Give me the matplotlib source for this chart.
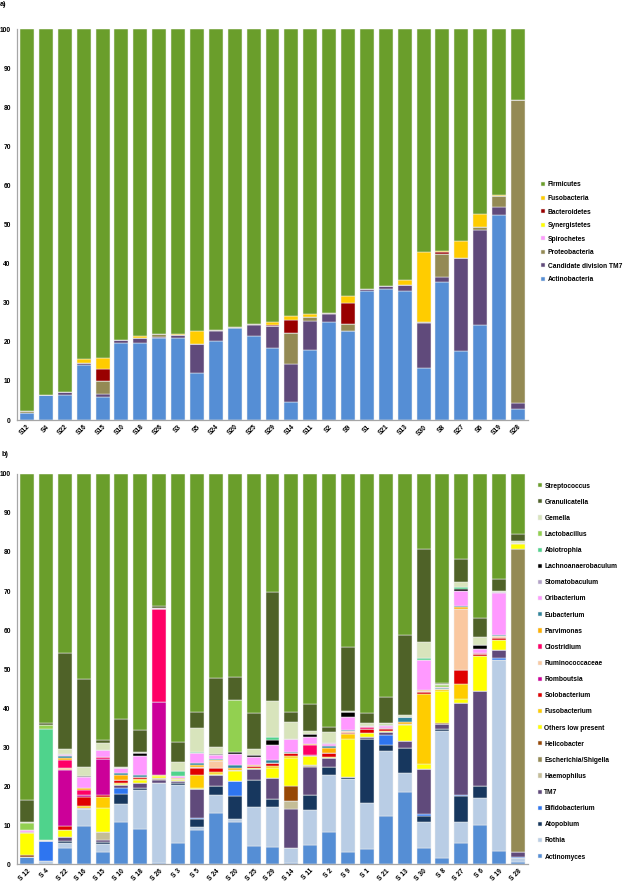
import matplotlib
matplotlib.use("Agg")
import matplotlib.pyplot as plt
import numpy as np

plt.rcParams['font.family'] = ['Liberation Sans', 'DejaVu Sans']
plt.rcParams['font.weight'] = 'bold'

# ---- panel a: phyla ----
samples_a = ["S12", "S4", "S22", "S16", "S15", "S10", "S18", "S26", "S3", "S5",
             "S24", "S20", "S25", "S29", "S14", "S11", "S2", "S9", "S1", "S21",
             "S13", "S30", "S8", "S27", "S6", "S19", "S28"]

actinobacteria = [1.8, 6.3, 6.3, 14.0, 5.8, 19.6, 19.7, 21.0, 21.0, 12.0, 20.2, 23.6, 21.6, 18.3,
                  4.7, 18.0, 25.0, 22.7, 33.0, 33.5, 33.0, 13.2, 35.3, 17.6, 24.3, 52.4, 2.8]
candidate_tm7 = [0, 0, 0.9, 0.5, 0.8, 0.9, 1.4, 0.3, 0.7, 7.4, 2.7, 0, 2.8, 5.7,
                 9.7, 7.4, 2.2, 0, 0.5, 0.7, 1.6, 11.7, 1.3, 23.9, 24.4, 2.2, 1.5]
proteobacteria = [0.4, 0, 0, 0.2, 3.5, 0, 0, 0.6, 0, 0, 0.2, 0.3, 0.2, 0,
                  7.8, 1.0, 0.1, 1.8, 0.1, 0, 0, 0.2, 5.9, 0, 0.6, 2.7, 77.5]
spirochetes = [0] * 27
synergistetes = [0] * 27
bacteroidetes = [0, 0, 0, 0, 2.9, 0, 0, 0, 0, 0, 0, 0, 0, 0.2,
                 3.4, 0, 0, 5.5, 0, 0, 0, 0, 0.5, 0, 0, 0, 0]
fusobacteria = [0, 0, 0, 0.8, 2.9, 0, 0.5, 0, 0.3, 3.4, 0, 0, 0, 0.8,
                1.0, 0.6, 0, 1.6, 0, 0, 1.2, 17.9, 0.2, 4.2, 3.5, 0.3, 0]
firmicutes = [97.8, 93.7, 92.8, 84.5, 84.1, 79.5, 78.4, 78.1, 78.0, 77.2, 76.9, 76.1, 75.4, 75.0,
              73.4, 73.0, 72.7, 68.4, 66.4, 65.8, 64.2, 57.0, 56.8, 54.3, 47.2, 42.4, 18.2]

phyla = [
    ("Actinobacteria", actinobacteria, "#558ED5"),
    ("Candidate division TM7", candidate_tm7, "#604A7B"),
    ("Proteobacteria", proteobacteria, "#948A54"),
    ("Spirochetes", spirochetes, "#FF99FF"),
    ("Synergistetes", synergistetes, "#FFFF00"),
    ("Bacteroidetes", bacteroidetes, "#990000"),
    ("Fusobacteria", fusobacteria, "#FFCC00"),
    ("Firmicutes", firmicutes, "#6A9E2B"),
]

# ---- panel b: genera ----
samples_b = ["S 12", "S 4", "S 22", "S 16", "S 15", "S 10", "S 18", "S 26", "S 3", "S 5",
             "S 24", "S 20", "S 25", "S 29", "S 14", "S 11", "S 2", "S 9", "S 1", "S 21",
             "S 13", "S 30", "S 8", "S 27", "S 6", "S 19", "S 28"]

actinomyces = [1.9, 0, 4.0, 9.8, 3.0, 10.7, 9.0, 0.3, 5.4, 8.8, 13.2, 10.7, 4.6, 4.4,
               0.3, 5.0, 8.2, 3.2, 3.9, 12.3, 18.4, 4.1, 1.5, 5.3, 10.0, 3.3, 0.5]
rothia = [0, 0.8, 1.3, 4.2, 2.2, 4.7, 9.9, 20.6, 14.9, 0.8, 4.5, 0.9, 9.9, 10.3,
          3.9, 8.8, 14.6, 18.6, 11.8, 16.7, 5.0, 6.8, 32.7, 5.6, 6.8, 49.1, 1.1]
atopobium = [0, 0, 0.7, 0, 0.4, 2.5, 0.7, 0, 0.4, 1.9, 2.4, 5.9, 7.1, 2.0,
             0, 3.9, 2.0, 0.6, 16.3, 1.5, 6.3, 1.5, 0.4, 6.5, 3.2, 0, 0]
bifidobacterium = [0, 5.1, 0, 0, 0, 1.7, 0, 0, 0, 0.3, 0, 3.7, 0, 0,
                   0, 0, 0, 0, 0, 2.6, 0, 0.3, 0, 0.3, 0, 0.3, 0.3]
tm7 = [0, 0, 0.9, 0.4, 0.6, 0.6, 1.3, 0.7, 0.5, 7.5, 2.7, 0, 2.8, 5.4,
       9.9, 7.3, 2.3, 0, 0.5, 0.8, 1.8, 11.7, 1.3, 23.5, 24.4, 2.2, 1.3]
haemophilus = [0, 0, 0, 0, 2.1, 0, 0, 0.4, 0, 0, 0, 0, 0, 0,
               2.1, 0.3, 0, 0, 0, 0, 0, 0, 0, 0, 0, 0, 0]
escherichia = [0, 0, 0, 0, 0, 0, 0, 0, 0, 0, 0, 0, 0, 0,
               0, 0, 0, 0, 0, 0, 0, 0, 0, 0, 0, 0, 77.6]
helicobacter = [0.3, 0, 0, 0, 0, 0, 0, 0, 0, 0, 0, 0, 0, 0,
                3.9, 0, 0, 0, 0, 0, 0, 0, 0.3, 0, 0, 0, 0]
others = [5.8, 0.3, 1.7, 0, 6.1, 0.3, 0.6, 0.5, 0.4, 0.3, 0.4, 2.6, 0.3, 2.6,
          7.1, 2.3, 0.3, 9.6, 1.2, 0.3, 4.1, 1.2, 8.2, 1.2, 9.0, 2.5, 1.3]
fusobacterium = [0, 0, 0.2, 0.6, 2.9, 0.3, 0.4, 0.2, 0.2, 3.2, 0.3, 0.4, 0, 0.5,
                 0.4, 0, 0, 1.4, 0, 0, 0.3, 18.0, 0.4, 3.8, 0, 0, 0.3]
solobacterium = [0.3, 0, 0.9, 2.3, 0.3, 0.8, 0.3, 0, 0, 1.8, 1.2, 0, 0.5, 0.6,
                 0.8, 0, 1.0, 0.3, 1.0, 0.3, 0, 0.5, 0, 3.5, 0.4, 0.5, 0]
romboutsia = [0, 0, 14.4, 0.3, 9.4, 0, 0, 18.8, 0, 0, 0, 0, 0, 0,
              0, 0.4, 0, 0, 0, 0.4, 0, 0, 0, 0, 0, 0, 0]
ruminococcaceae = [0, 0, 0.4, 0, 0, 0, 0, 0, 0, 0.4, 1.7, 0, 0, 0,
                   0, 0, 0, 0.4, 0, 0, 0, 0.3, 0, 15.8, 0, 0.5, 0]
clostridium = [0, 0, 2.1, 1.3, 0.5, 0, 0, 23.8, 0, 0, 0, 0, 0, 0,
               0, 2.4, 0, 0, 0.4, 0, 0, 0, 0, 0, 0.3, 0, 0]
parvimonas = [0, 0, 0.6, 0.6, 0, 1.2, 0, 0, 0.2, 0.4, 0.3, 0.5, 0.3, 0,
              0, 0.3, 1.3, 0, 0, 0, 0.4, 0.3, 0, 0.3, 0, 0, 0]
eubacterium = [0, 0, 0.4, 0, 0, 0.6, 0.5, 0, 0, 0.6, 0.3, 0.8, 0, 0.8,
               0.3, 0, 0.5, 0.3, 0, 0, 1.5, 0, 0.3, 0.3, 0, 0.3, 0]
oribacterium = [0.4, 0, 0.4, 2.8, 1.7, 1.2, 5.1, 0.3, 0.5, 2.4, 0.9, 2.8, 1.9, 3.9,
                3.4, 1.9, 0.5, 3.4, 0.3, 0.4, 0, 7.7, 0.3, 3.9, 1.0, 10.7, 0]
stomatobaculum = [0, 0, 0.2, 0, 0, 0, 0, 0, 0, 0, 0, 0, 0, 0,
                  0, 0, 0.3, 0, 0, 0.3, 0, 0, 0, 0, 0, 0.3, 0]
lachnoanaerobaculum = [0, 0, 0, 0.3, 0, 0, 0.6, 0, 0, 0, 0.3, 0.3, 0.5, 1.4,
                       0, 0.8, 0, 1.2, 0, 0, 0, 0, 0, 0.6, 1.1, 0, 0]
abiotrophia = [0, 28.3, 0, 0, 0, 0, 0, 0, 1.3, 0.3, 0, 0, 0, 0.7,
               0, 0, 0, 0, 0, 0, 0, 0.3, 0, 0.3, 0, 0, 0]
lactobacillus = [1.7, 1.2, 0, 0, 0, 0, 0, 0, 0, 0, 0, 13.5, 0, 0,
                 0, 0, 0, 0, 0, 0.3, 0, 0, 0.4, 0, 0, 0, 0]
gemella = [0.3, 0, 1.4, 2.3, 1.7, 0.4, 0.4, 0, 2.3, 6.2, 1.7, 0, 1.6, 9.3,
           4.2, 0.8, 2.8, 0.3, 0.8, 0.3, 0.3, 4.1, 0.3, 1.5, 1.9, 0.3, 0.3]
granulicatella = [5.8, 0.4, 24.5, 22.5, 0.8, 12.3, 5.6, 0.6, 5.1, 4.1, 17.9, 5.9, 9.1, 27.8,
                  2.6, 6.8, 1.3, 16.4, 2.6, 6.5, 20.6, 24.0, 0.4, 5.9, 4.9, 3.2, 1.9]
streptococcus = [83.5, 63.9, 45.9, 52.6, 68.3, 62.7, 65.6, 33.8, 68.8, 61.0, 52.2, 52.0, 61.4, 30.3,
                 61.1, 59.0, 64.9, 44.3, 61.2, 57.3, 41.3, 19.2, 53.5, 21.7, 37.0, 26.8, 15.4]

genera = [
    ("Actinomyces", actinomyces, "#558ED5"),
    ("Rothia", rothia, "#B9CDE5"),
    ("Atopobium", atopobium, "#17375E"),
    ("Bifidobacterium", bifidobacterium, "#2E75F0"),
    ("TM7", tm7, "#604A7B"),
    ("Haemophilus", haemophilus, "#C4BD97"),
    ("Escherichia/Shigella", escherichia, "#948A54"),
    ("Helicobacter", helicobacter, "#974806"),
    ("Others low present", others, "#FFFF00"),
    ("Fusobacterium", fusobacterium, "#FFCC00"),
    ("Solobacterium", solobacterium, "#E00000"),
    ("Romboutsia", romboutsia, "#CC0099"),
    ("Ruminococcaceae", ruminococcaceae, "#FAC8A0"),
    ("Clostridium", clostridium, "#FF0066"),
    ("Parvimonas", parvimonas, "#FFB000"),
    ("Eubacterium", eubacterium, "#31859C"),
    ("Oribacterium", oribacterium, "#FF99FF"),
    ("Stomatobaculum", stomatobaculum, "#B1A0C7"),
    ("Lachnoanaerobaculum", lachnoanaerobaculum, "#000000"),
    ("Abiotrophia", abiotrophia, "#4FD38C"),
    ("Lactobacillus", lactobacillus, "#92D050"),
    ("Gemella", gemella, "#D8E4BC"),
    ("Granulicatella", granulicatella, "#4F6228"),
    ("Streptococcus", streptococcus, "#6A9E2B"),
]

FS = 4.8


def stacked(ax, labels, series):
    x = np.arange(len(labels))
    bottom = np.zeros(len(labels))
    handles = []
    for name, vals, col in series:
        vals = np.array(vals, dtype=float)
        h = ax.bar(x, vals, 0.74, bottom=bottom, color=col, edgecolor='#eeeeee',
                   linewidth=0.35, label=name)
        handles.append(h)
        bottom += vals
    ax.set_xlim(-0.53, len(labels) - 0.47)
    ax.set_ylim(0, 100)
    ax.set_yticks(np.arange(0, 101, 10))
    ax.set_xticks(x)
    ax.set_xticklabels(labels, rotation=45, ha='right', va='top',
                       rotation_mode='anchor', fontsize=FS, fontweight='bold')
    ax.tick_params(axis='y', length=0, pad=4.5, labelsize=FS)
    ax.tick_params(axis='x', length=0, pad=2.5)
    for s in ('top', 'right'):
        ax.spines[s].set_visible(False)
    for s in ('left', 'bottom'):
        ax.spines[s].set_color('#a6a6a6')
        ax.spines[s].set_linewidth(0.9)
    return handles


fig = plt.figure(figsize=(6.25, 8.83), dpi=100)

ax_a = fig.add_axes([0.0272, 0.5243, 0.8176, 0.4428])
ha = stacked(ax_a, samples_a, phyla)
fig.legend(ha[::-1], [p[0] for p in phyla][::-1], loc='upper left',
           bbox_to_anchor=(0.866, 0.7945), bbox_transform=fig.transFigure,
           frameon=False, fontsize=FS, handlelength=0.6, handleheight=0.6,
           handletextpad=0.35, labelspacing=0.98, borderpad=0, borderaxespad=0)

ax_b = fig.add_axes([0.0272, 0.0215, 0.8176, 0.4417])
hb = stacked(ax_b, samples_b, genera)
fig.legend(hb[::-1], [g[0] for g in genera][::-1], loc='upper left',
           bbox_to_anchor=(0.861, 0.4535), bbox_transform=fig.transFigure,
           frameon=False, fontsize=FS, handlelength=0.6, handleheight=0.6,
           handletextpad=0.35, labelspacing=1.37, borderpad=0, borderaxespad=0)

fig.text(0.0, 0.9945, "a)", fontsize=5.2, fontweight='bold', va='center', ha='left')
fig.text(0.003, 1 - 455 / 883, "b)", fontsize=5.2, fontweight='bold', va='center', ha='left')

fig.savefig("out.png", dpi=100)
